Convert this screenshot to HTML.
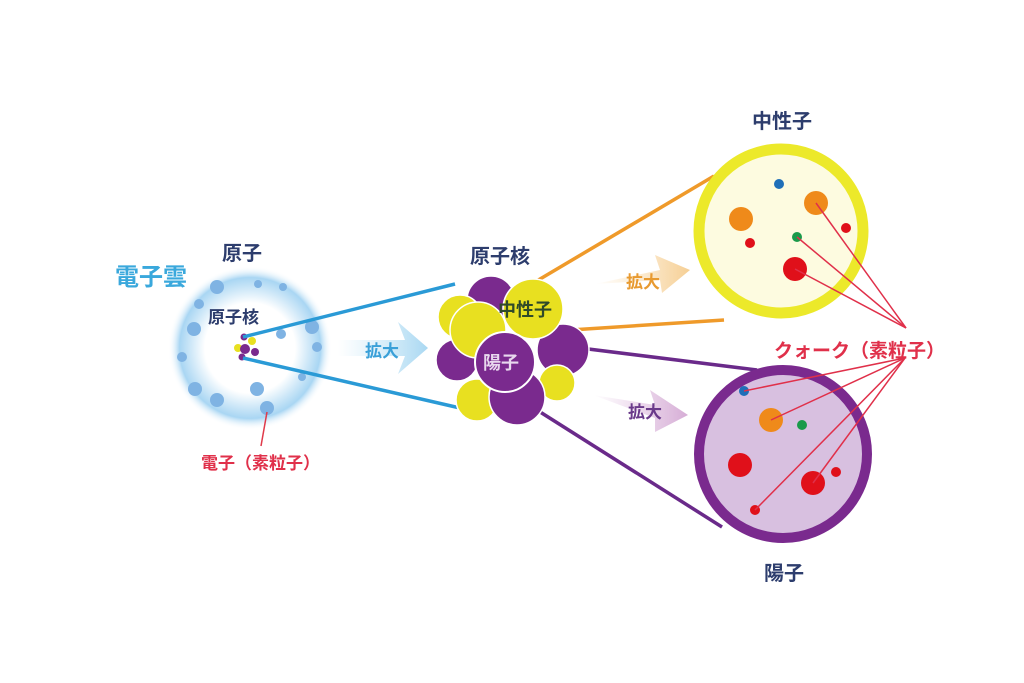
<!DOCTYPE html>
<html><head><meta charset="utf-8"><style>
html,body{margin:0;padding:0;background:#fff;}
svg{display:block;}
text{font-family:"Liberation Sans","Noto Sans CJK JP",sans-serif;font-weight:bold;}
</style></head><body>
<svg width="1024" height="683" viewBox="0 0 1024 683" xmlns="http://www.w3.org/2000/svg">
<defs>
<radialGradient id="glow" cx="50%" cy="50%" r="50%">
<stop offset="0.55" stop-color="#ffffff" stop-opacity="1"/>
<stop offset="0.72" stop-color="#cfe8f8"/>
<stop offset="0.86" stop-color="#a9d6f3"/>
<stop offset="1" stop-color="#ffffff" stop-opacity="0"/>
</radialGradient>
<linearGradient id="ab" x1="0" x2="1"><stop offset="0" stop-color="#bfe3f6" stop-opacity="0"/><stop offset="1" stop-color="#a9d8f2"/></linearGradient>
<linearGradient id="ao" x1="0" x2="1"><stop offset="0" stop-color="#f8d9a8" stop-opacity="0"/><stop offset="1" stop-color="#f6cf94"/></linearGradient>
<linearGradient id="ap" x1="0" x2="1"><stop offset="0" stop-color="#dcb8dc" stop-opacity="0"/><stop offset="1" stop-color="#d6add6"/></linearGradient>
</defs>

<!-- atom glow -->
<circle cx="250" cy="348" r="82" fill="url(#glow)"/>
<g fill="#7fb3e3">
<circle cx="217" cy="287" r="7"/><circle cx="258" cy="284" r="4"/><circle cx="283" cy="287" r="4"/>
<circle cx="199" cy="304" r="5"/><circle cx="194" cy="329" r="7"/><circle cx="312" cy="327" r="7"/>
<circle cx="281" cy="334" r="5"/><circle cx="317" cy="347" r="5"/><circle cx="182" cy="357" r="5"/>
<circle cx="195" cy="389" r="7"/><circle cx="257" cy="389" r="7"/><circle cx="217" cy="400" r="7"/>
<circle cx="302" cy="377" r="4"/><circle cx="267" cy="408" r="7"/>
</g>
<!-- tiny nucleus -->
<circle cx="252" cy="341" r="4" fill="#e8e020"/><circle cx="238" cy="348" r="4" fill="#e8e020"/>
<circle cx="244" cy="337" r="3.5" fill="#7a2a8e"/><circle cx="245" cy="349" r="5" fill="#7a2a8e"/>
<circle cx="255" cy="352" r="4" fill="#7a2a8e"/><circle cx="242" cy="357" r="3.5" fill="#7a2a8e"/>

<!-- blue lines -->
<line x1="243" y1="337" x2="455" y2="284" stroke="#2a9ad6" stroke-width="3.5"/>
<line x1="243" y1="358" x2="460" y2="408" stroke="#2a9ad6" stroke-width="3.5"/>
<line x1="267" y1="412" x2="261" y2="446" stroke="#e03a4a" stroke-width="1.5"/>

<!-- arrows -->
<polygon points="338,340 405,340 398,322 428,348 398,374 405,356 338,356" fill="url(#ab)"/>
<polygon points="595,284 660,270 655,255 690,270 662,293 660,280" fill="url(#ao)"/>
<polygon points="593,395 655,405 650,390 688,415 655,432 655,418" fill="url(#ap)"/>
<text x="365" y="357" font-size="17" fill="#3aa0d8">拡大</text>
<text x="626" y="288" font-size="17" fill="#e89a30">拡大</text>
<text x="628" y="418" font-size="17" fill="#6a3a8a">拡大</text>

<!-- nucleus connector lines -->
<line x1="535" y1="282" x2="714" y2="176" stroke="#ef9a2a" stroke-width="3.5"/>
<line x1="555" y1="331" x2="724" y2="320" stroke="#ef9a2a" stroke-width="3.5"/>
<line x1="540" y1="343" x2="757" y2="370" stroke="#6a2a8a" stroke-width="3.5"/>
<line x1="518" y1="398" x2="722" y2="527" stroke="#6a2a8a" stroke-width="3.5"/>

<!-- nucleus -->
<g stroke="#fff" stroke-width="1.5">
<circle cx="491" cy="300" r="24" fill="#7a2a8e"/>
<circle cx="460" cy="317" r="22" fill="#e8e020"/>
<circle cx="563" cy="350" r="26" fill="#7a2a8e"/>
<circle cx="557" cy="383" r="18" fill="#e8e020"/>
<circle cx="457" cy="360" r="21" fill="#7a2a8e"/>
<circle cx="477" cy="400" r="21" fill="#e8e020"/>
<circle cx="517" cy="397" r="28" fill="#7a2a8e"/>
<circle cx="533" cy="309" r="30" fill="#e8e020"/>
<circle cx="478" cy="330" r="28" fill="#e8e020"/>
<circle cx="505" cy="362" r="30" fill="#7a2a8e" stroke-width="2"/>
</g>
<text x="498" y="316" font-size="18" fill="#2f4a2a">中性子</text>
<text x="483" y="369" font-size="18" fill="#e8d8ee" font-weight="normal">陽子</text>

<!-- neutron big -->
<circle cx="781" cy="231" r="82" fill="#fdfbe0" stroke="#ece92a" stroke-width="11"/>
<circle cx="779" cy="184" r="5" fill="#1f6fb8"/>
<circle cx="741" cy="219" r="12" fill="#ef8a1a"/>
<circle cx="816" cy="203" r="12" fill="#ef8a1a"/>
<circle cx="750" cy="243" r="5" fill="#e0101a"/>
<circle cx="797" cy="237" r="5" fill="#1a9a4a"/>
<circle cx="846" cy="228" r="5" fill="#e0101a"/>
<circle cx="795" cy="269" r="12" fill="#e0101a"/>

<!-- proton big -->
<circle cx="783" cy="454" r="84" fill="#d8c0e0" stroke="#7a2a8e" stroke-width="10"/>
<circle cx="744" cy="391" r="5" fill="#1f6fb8"/>
<circle cx="771" cy="420" r="12" fill="#ef8a1a"/>
<circle cx="802" cy="425" r="5" fill="#1a9a4a"/>
<circle cx="740" cy="465" r="12" fill="#e0101a"/>
<circle cx="813" cy="483" r="12" fill="#e0101a"/>
<circle cx="836" cy="472" r="5" fill="#e0101a"/>
<circle cx="755" cy="510" r="5" fill="#e0101a"/>

<!-- quark lines -->
<g stroke="#e0304a" stroke-width="1.5">
<line x1="906" y1="328" x2="816" y2="203"/>
<line x1="906" y1="328" x2="797" y2="237"/>
<line x1="906" y1="328" x2="795" y2="269"/>
<line x1="905" y1="358" x2="744" y2="391"/>
<line x1="905" y1="358" x2="771" y2="420"/>
<line x1="905" y1="358" x2="755" y2="510"/>
<line x1="905" y1="358" x2="813" y2="483"/>
</g>

<!-- labels -->
<text x="115" y="285" font-size="24" fill="#3aa8dc">電子雲</text>
<text x="222" y="260" font-size="20" fill="#2d3d6d">原子</text>
<text x="208" y="323" font-size="17" fill="#2d3d6d">原子核</text>
<text x="201" y="469" font-size="17" fill="#e0304a">電子（素粒子）</text>
<text x="470" y="263" font-size="20" fill="#2d3d6d">原子核</text>
<text x="752" y="128" font-size="20" fill="#2d3d6d">中性子</text>
<text x="764" y="580" font-size="20" fill="#2d3d6d">陽子</text>
<text x="774" y="357" font-size="19" fill="#e0304a">クォーク（素粒子）</text>
</svg>
</body></html>
